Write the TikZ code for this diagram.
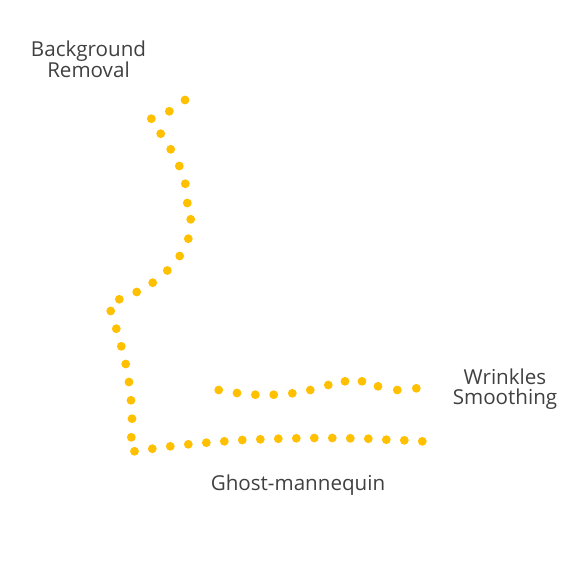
\documentclass[tikz,border=0pt]{standalone}
\usepackage{fontspec}
\setmainfont{Open Sans}
\definecolor{dotc}{HTML}{FFC000}
\definecolor{txt}{HTML}{404040}
\begin{document}
\begin{tikzpicture}[x=1pt,y=-1pt,
  dot/.style={fill=dotc,draw=none},
  lbl/.style={text=txt,font=\fontsize{20.6}{20}\selectfont,align=center,inner sep=0pt,anchor=base}]
\useasboundingbox (0,0) rectangle (575,575);
% path 1
\foreach \x/\y in {185/100,169.3/111.3,151.3/118.7,160.7/133.7,170.7/149.3,179.3/166,185.3/183.7,187.3/203,190.7/219.3,188.3/238.7,179.7/256,167.3/270.5,152.7/282.7,136.7/292,119.3/299.3,110.7/311,116.3/328.7,121.3/346.3,125.7/364,129/382,131/400.3,132/418.7,131.3/437.3,134.5/451.3,152.3/448.7,170.3/446.3,188.3/444.3,206.3/442.7,224.3/441.3,242.3/440,260.3/439.3,278.3/438.7,296.3/438.3,314.3/438,332.3/438,350.3/438.3,368.3/438.7,386.3/439.7,404.3/440.3,422.3/441.3}
  \fill[dot] (\x,\y) circle (4.4);
% path 2
\foreach \x/\y in {218.7/390,237/393,255.3/394.7,273.7/394.7,292.3/393.3,310.3/390,328.3/385,345/381.3,362/381.3,378/386.3,397.3/390,416.3/388.3}
  \fill[dot] (\x,\y) circle (4.4);
\node[lbl] (bg) at (88.5,78) {Background\\Removal};
\node[lbl] (wr) at (505,404) {Wrinkles\\Smoothing};
\node[lbl] (gm) at (298,490) {Ghost-mannequin};
\end{tikzpicture}
\end{document}
